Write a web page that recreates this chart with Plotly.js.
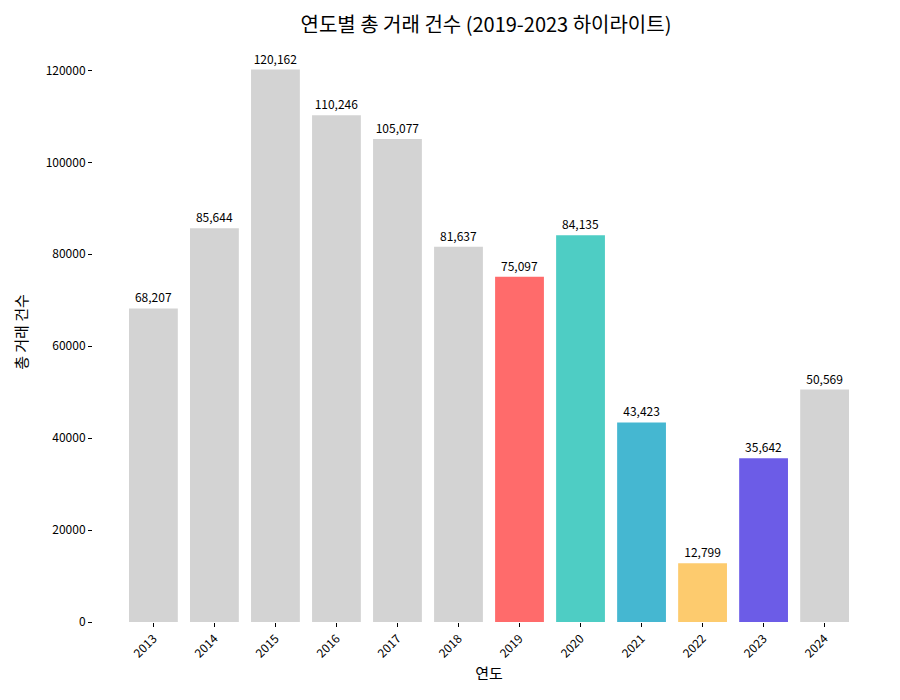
<!DOCTYPE html>
<html>
<head>
<meta charset="utf-8">
<script src="https://cdn.plot.ly/plotly-3.0.1.min.js"></script>
<style>body{margin:0;background:#fff}#chart{width:900px;height:700px}</style>
</head>
<body>
<div id="chart"></div>
<script>
// ── Data ──────────────────────────────────────────────────────────────
const years  = ['2013','2014','2015','2016','2017','2018','2019','2020','2021','2022','2023','2024'];
const counts = [68207, 85644, 120162, 110246, 105077, 81637, 75097, 84135, 43423, 12799, 35642, 50569];
const highlightColors = {
  '2019': '#FF6B6B', '2020': '#4ECDC4', '2021': '#45B7D1',
  '2022': '#FDCB6E', '2023': '#6C5CE7'
};

const colors = years.map(y => highlightColors[y] || '#D3D3D3');
const font = 'Noto Sans CJK KR, Noto Sans, sans-serif';

Plotly.newPlot('chart', [{
  type: 'bar',
  x: years.map((_, i) => i),
  y: counts,
  marker: {color: colors},
  text: counts.map(v => v.toLocaleString('en-US')),
  textposition: 'outside',
  cliponaxis: false,
  textfont: {size: 12, color: '#000'},
  hoverinfo: 'x+y',
}], {
  width: 900, height: 700,
  margin: {t: 42, b: 78, l: 93, r: 15},
  bargap: 0.2,
  font: {family: font, color: '#000'},
  title: {text: '연도별 총 거래 건수 (2019-2023 하이라이트)', font: {size: 20}, x: 0.54, y: 0.975},
  xaxis: {
    range: [-0.99, 11.99],
    tickvals: years.map((_, i) => i), ticktext: years,
    tickangle: -45, ticks: 'outside', ticklen: 4, tickcolor: '#000',
    tickfont: {size: 12}, showgrid: false, zeroline: false, showline: false,
    title: {text: '연도', font: {size: 15}, standoff: 8},
  },
  yaxis: {
    range: [0, 126170], dtick: 20000, tickformat: 'd',
    ticks: 'outside', ticklen: 4, tickcolor: '#000',
    tickfont: {size: 12}, showgrid: false, zeroline: false, showline: false,
    title: {text: '총 거래 건수', font: {size: 15}, standoff: 14},
  },
  plot_bgcolor: '#fff', paper_bgcolor: '#fff',
}, {displayModeBar: false});
</script>
</body>
</html>
